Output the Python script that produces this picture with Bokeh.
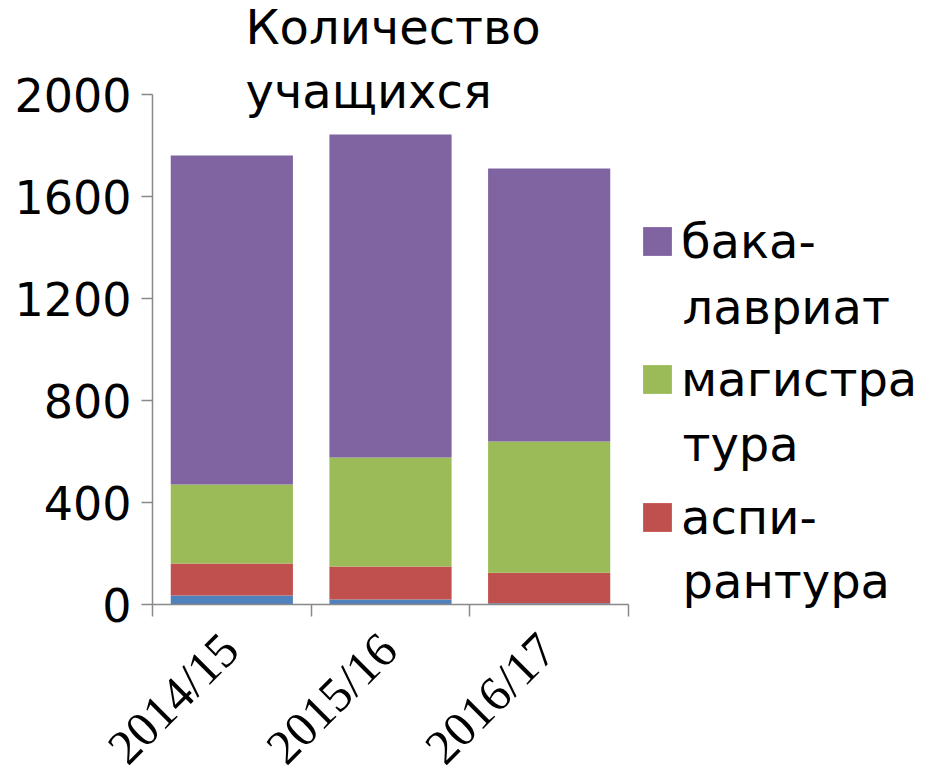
from bokeh.plotting import figure
from bokeh.models import (ColumnDataSource, Range1d, FixedTicker, Legend, LegendItem,
                          Label, LabelSet)
from bokeh.embed import file_html
from bokeh.resources import INLINE

# ---- data ----
categories = ["2014/15", "2015/16", "2016/17"]
other = [35, 20, 5]
aspirantura = [126, 129, 120]
magistratura = [310, 427, 514]
bakalavriat = [1290, 1267, 1071]
y_ticks = [0, 400, 800, 1200, 1600, 2000]
title_text = "Количество\nучащихся"
legend_first = ["бака-", "магистра", "аспи-"]
legend_second = ["лавриат", "тура", "рантура"]

FONT = "DejaVu Sans"
FS_TICK = "46px"
FS = "48px"
FS_X = "49px"
AXIS_COLOR = "#898989"
colors = ["#4F81BD", "#C0504D", "#9BBB59", "#8064A2"]

W, H = 932, 771
LEFT = 152
# pixel geometry of the value axis: 0 at y=604, 2000 at y=94 (canvas px)
px_per_unit = (604 - 94) / 2000.0
y_lo = -(H - 604) / px_per_unit
y_hi = 2000 + 94 / px_per_unit
cat_px = (628 - LEFT) / 3.0
x_lo = -LEFT / cat_px
x_hi = (W - LEFT) / cat_px

xpos = [i + 0.5 for i in range(len(categories))]
source = ColumnDataSource(dict(x=xpos, other=other, asp=aspirantura,
                               mag=magistratura, bak=bakalavriat))
label_src = ColumnDataSource(dict(x=xpos, y=[0] * len(categories), text=categories))

p = figure(width=W, height=H, output_backend="svg", toolbar_location=None,
           x_range=Range1d(x_lo, x_hi), y_range=Range1d(y_lo, y_hi),
           min_border_left=0, min_border_right=0, min_border_top=0,
           min_border_bottom=0)
p.outline_line_color = None
p.xgrid.visible = False
p.ygrid.visible = False
p.border_fill_color = "white"

rs = p.vbar_stack(["other", "asp", "mag", "bak"], x="x", width=0.77,
                  source=source, color=colors, line_color=None)

# y axis at category position 0
ya = p.yaxis[0]
ya.fixed_location = 0
ya.bounds = (0, 2000)
ya.ticker = FixedTicker(ticks=y_ticks, minor_ticks=[])
ya.axis_line_color = AXIS_COLOR
ya.axis_line_width = 1.5
ya.major_tick_line_color = AXIS_COLOR
ya.major_tick_line_width = 1.5
ya.major_tick_out = 11
ya.major_tick_in = 0
ya.minor_tick_line_color = None
ya.major_label_text_font = FONT
ya.major_label_text_font_size = FS_TICK
ya.major_label_text_color = "black"
ya.major_label_standoff = 10

# x axis at value 0: ticks at category boundaries
xa = p.xaxis[0]
xa.fixed_location = 0
xa.bounds = (0, len(categories))
xa.ticker = FixedTicker(ticks=xpos, minor_ticks=list(range(len(categories) + 1)))
xa.major_label_text_font_size = "0px"
xa.major_label_text_alpha = 0
xa.axis_line_color = AXIS_COLOR
xa.axis_line_width = 1.5
xa.major_tick_line_color = None
xa.major_tick_out = 0
xa.major_tick_in = 0
xa.minor_tick_line_color = AXIS_COLOR
xa.minor_tick_line_width = 1.5
xa.minor_tick_out = 12
xa.minor_tick_in = 0

xlabels = LabelSet(x="x", y="y", text="text", source=label_src, angle=0.785398,
                   x_offset=-2, y_offset=-37, text_align="right",
                   text_baseline="middle", text_font=FONT, text_font_size=FS_X,
                   text_color="black")
p.add_layout(xlabels)

# legend (top to bottom: bak, mag, asp)
GLYPH = 36
legend = Legend(items=[LegendItem(label=legend_first[0], renderers=[rs[3]]),
                       LegendItem(label=legend_first[1], renderers=[rs[2]]),
                       LegendItem(label=legend_first[2], renderers=[rs[1]])],
                location=(639, 226))
legend.background_fill_alpha = 0
legend.border_line_color = None
legend.label_text_font = FONT
legend.label_text_font_size = FS
legend.label_text_color = "black"
legend.glyph_width = GLYPH
legend.glyph_height = GLYPH
legend.label_standoff = 6
legend.padding = 0
legend.margin = 0
legend.spacing = 82
p.add_layout(legend, "center")

for i, t in enumerate(legend_second):
    p.add_layout(Label(x=682, y=H - (306 + 137 * i), x_units="screen", y_units="screen",
                       text=t, text_font=FONT, text_font_size=FS,
                       text_baseline="middle", text_color="black"))

title = Label(x=245, y=H + 2, x_units="screen", y_units="screen", text=title_text,
              text_font=FONT, text_font_size=FS, text_baseline="top",
              text_color="black", text_line_height=1.15)
p.add_layout(title)

open("out.html", "w").write(file_html(p, INLINE))
